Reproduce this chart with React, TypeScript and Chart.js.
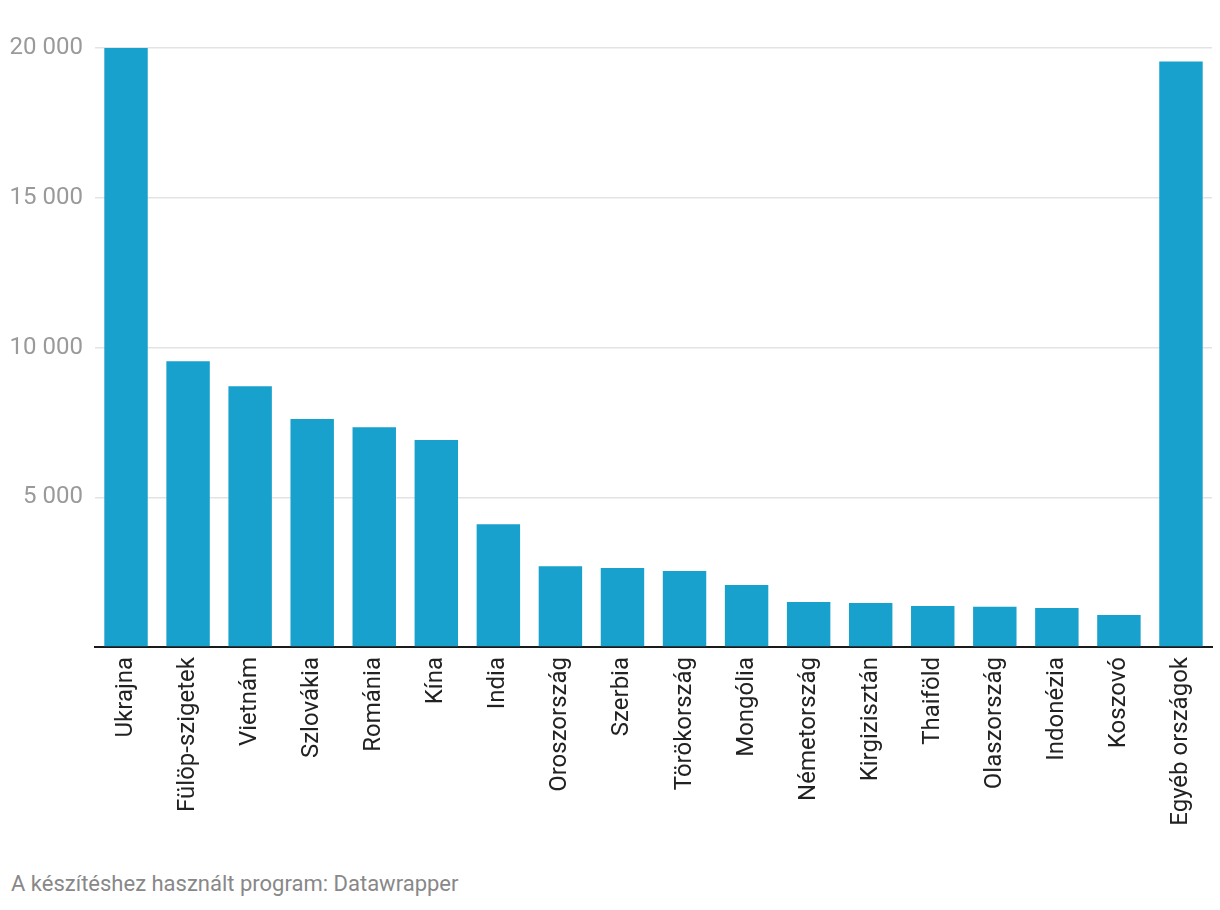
import React, { useEffect, useRef } from "react";
import { Chart, registerables } from "chart.js";

Chart.register(...registerables);

const categories = [
  "Ukrajna", "Fülöp-szigetek", "Vietnám", "Szlovákia", "Románia", "Kína", "India",
  "Oroszország", "Szerbia", "Törökország", "Mongólia", "Németország", "Kirgizisztán",
  "Thaiföld", "Olaszország", "Indonézia", "Koszovó", "Egyéb országok",
];
const values = [
  20000, 9540, 8710, 7610, 7340, 6910, 4100, 2700, 2640, 2540, 2070, 1500, 1470,
  1370, 1340, 1300, 1070, 19550,
];
const yTicks = [0, 5000, 10000, 15000, 20000];
const footer = "A készítéshez használt program: Datawrapper";

const fmt = (v: number) =>
  v === 0 ? "" : String(v).replace(/\B(?=(\d{3})+(?!\d))/g, " ");

export default function App() {
  const ref = useRef<HTMLCanvasElement>(null);
  useEffect(() => {
    document.body.style.margin = "0";
    const chart = new Chart(ref.current!, {
      type: "bar",
      data: {
        labels: categories,
        datasets: [
          {
            data: values,
            backgroundColor: "#18a1cd",
            categoryPercentage: 1,
            barPercentage: 0.7,
          },
        ],
      },
      options: {
        animation: false,
        responsive: false,
        devicePixelRatio: 1,
        layout: { padding: { top: 48, right: 8, left: 1, bottom: 0 } },
        plugins: { legend: { display: false }, tooltip: { enabled: false } },
        scales: {
          x: {
            grid: { display: false, drawTicks: false },
            border: { display: true, color: "#1a1a1a", width: 2 },
            ticks: {
              color: "#222",
              font: { family: "Roboto", size: 24 },
              maxRotation: 90,
              minRotation: 90,
              padding: 10,
              autoSkip: false,
            },
            afterFit: (s: any) => {
              s.height = 860 - 647;
            },
          },
          y: {
            min: 0,
            max: 20000,
            afterBuildTicks: (s: any) => {
              s.ticks = yTicks.map((v) => ({ value: v }));
            },
            grid: { color: "#e3e3e3", lineWidth: 1.5, drawTicks: false },
            border: { display: false },
            ticks: {
              color: "#9a9a9a",
              font: { family: "Roboto", size: 24 },
              padding: 12,
              callback: (v: any) => fmt(Number(v)),
            },
            afterFit: (s: any) => {
              s.width = 94;
            },
          },
        },
      },
    });
    return () => chart.destroy();
  }, []);
  return (
    <div style={{ position: "relative", width: 1220, height: 910, background: "#fff" }}>
      <canvas ref={ref} width={1220} height={860} style={{ display: "block" }} />
      <div
        style={{
          position: "absolute",
          left: 11,
          top: 871,
          fontFamily: "Roboto",
          fontSize: 22,
          color: "#888",
          whiteSpace: "nowrap",
        }}
      >
        {footer}
      </div>
    </div>
  );
}
